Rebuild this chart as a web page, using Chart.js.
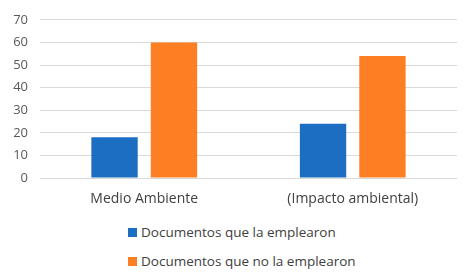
<!DOCTYPE html>
<html>
<head>
<meta charset="utf-8">
<script src="https://cdn.jsdelivr.net/npm/chart.js@4"></script>
<style>
  body { margin: 0; background: #fff; font-family: "Open Sans", "Noto Sans", sans-serif; }
  #wrap { position: relative; width: 473px; height: 280px; }
  #box { position: absolute; left: 0; top: 0; width: 473px; height: 215px; }
  #legend { position: absolute; left: 128px; top: 222px; color: #404040; font-size: 13.5px; }
  #legend div { height: 29px; line-height: 20px; white-space: nowrap; }
  #legend span { display: inline-block; width: 9px; height: 9px; margin-right: 4px; }
</style>
</head>
<body>
<div id="wrap">
  <div id="box"><canvas id="myChart"></canvas></div>
  <div id="legend"></div>
</div>
<script>
// datos
var categorias = ["Medio Ambiente", "(Impacto ambiental)"];
var series = ["Documentos que la emplearon", "Documentos que no la emplearon"];
var emplearon = [18, 24];
var noEmplearon = [60, 54];
var colores = ["#1b6ec2", "#fd7e23"];

var chart = new Chart(document.getElementById("myChart"), {
    type: 'bar',
    data: {
        labels: categorias,
        datasets: [
            { label: series[0], data: emplearon, backgroundColor: colores[0] },
            { label: series[1], data: noEmplearon, backgroundColor: colores[1] }
        ]
    },
    options: {
        responsive: true,
        maintainAspectRatio: false,
        animation: false,
        layout: { padding: { top: 12, right: 16, left: 0, bottom: 0 } },
        datasets: { bar: { categoryPercentage: 0.57, barPercentage: 0.78 } },
        plugins: { legend: { display: false }, tooltip: { enabled: false } },
        scales: {
            x: {
                grid: { display: false },
                border: { display: false },
                ticks: { color: '#404040', font: { family: 'Open Sans', size: 14 }, padding: 5 },
                afterFit: function (s) { s.height = 37; }
            },
            y: {
                min: 0, max: 70,
                ticks: { stepSize: 10, color: '#595959', font: { family: 'Open Sans', size: 13 }, padding: 12 },
                grid: { color: '#d9d9d9', drawTicks: false },
                border: { display: false },
                afterFit: function (s) { s.width = 40; }
            }
        }
    }
});

// leyenda en dos filas
var lg = document.getElementById("legend");
for (var i in series) {
    var d = document.createElement("div");
    d.innerHTML = '<span style="background:' + colores[i] + '"></span>' + series[i];
    lg.appendChild(d);
}
</script>
</body>
</html>
